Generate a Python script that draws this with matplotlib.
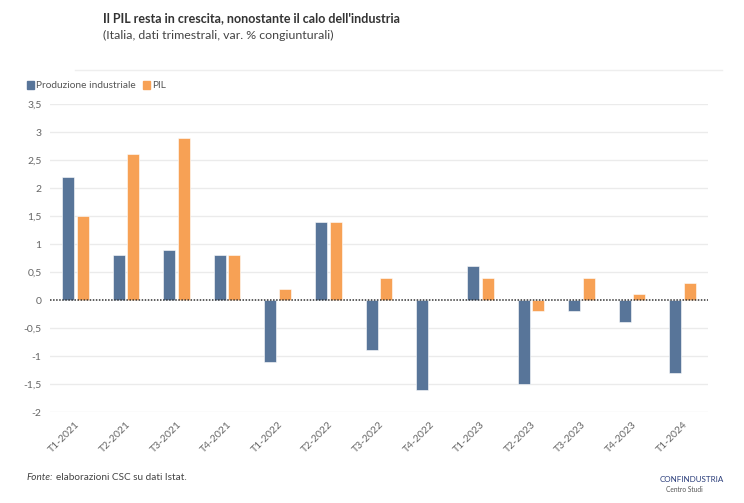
import numpy as np
import matplotlib.pyplot as plt
from matplotlib.transforms import ScaledTranslation

plt.rcParams['font.family'] = ['Lato', 'DejaVu Sans']

# data
trimestri = ['T1-2021', 'T2-2021', 'T3-2021', 'T4-2021', 'T1-2022', 'T2-2022', 'T3-2022',
             'T4-2022', 'T1-2023', 'T2-2023', 'T3-2023', 'T4-2023', 'T1-2024']
produzione = [2.2, 0.8, 0.9, 0.8, -1.1, 1.4, -0.9, -1.6, 0.6, -1.5, -0.2, -0.4, -1.3]
pil = [1.5, 2.6, 2.9, 0.8, 0.2, 1.4, 0.4, 0.0, 0.4, -0.2, 0.4, 0.1, 0.3]
y_ticks = [-2, -1.5, -1, -0.5, 0, 0.5, 1, 1.5, 2, 2.5, 3, 3.5]

blue = '#587599'
orange = '#f7a155'
grey_txt = '#666666'

fig = plt.figure(figsize=(7.44, 5.03), dpi=100)
ax = fig.add_axes([50 / 744, 1 - 412 / 503, 658 / 744, 308 / 503])

x = np.arange(len(trimestri))
w = 0.237
ax.bar(x - 0.145, produzione, w, color=blue, edgecolor='white', linewidth=0.4, zorder=3)
ax.bar(x + 0.145, pil, w, color=orange, edgecolor='white', linewidth=0.4, zorder=3)

ax.set_xlim(-0.5, len(trimestri) - 0.5)
ax.set_ylim(-2, 3.5)
ax.set_yticks(y_ticks)
ax.set_yticklabels([('%g' % v).replace('.', ',') for v in y_ticks], color=grey_txt, fontsize=7.5)
for v in y_ticks:
    if v != 0:
        ax.axhline(v, color='#ebebeb', linewidth=1, zorder=1)
ax.axhline(0, color='#333333', linewidth=1.1, linestyle=(0, (1, 1)), zorder=4)

ax.set_xticks(x)
ax.set_xticklabels(trimestri, rotation=45, ha='right', rotation_mode='anchor',
                   color=grey_txt, fontsize=7.5)
off = ScaledTranslation(6 / 100, 0, fig.dpi_scale_trans)
for lab in ax.get_xticklabels():
    lab.set_transform(lab.get_transform() + off)
ax.tick_params(axis='both', length=0)
ax.tick_params(axis='x', pad=6)
ax.tick_params(axis='y', pad=6)
for s in ax.spines.values():
    s.set_visible(False)

# titles
fig.text(103 / 744, 1 - 18 / 503, "Il PIL resta in crescita, nonostante il calo dell'industria",
         fontsize=9, fontweight='bold', color='#333333', va='center')
fig.text(103 / 744, 1 - 35 / 503, "(Italia, dati trimestrali, var. % congiunturali)",
         fontsize=8.9, color='#444444', va='center')
fig.add_artist(plt.Line2D([75 / 744, 722 / 744], [1 - 70 / 503, 1 - 70 / 503],
                          color='#eeeeee', linewidth=1))

# legend
for xs, lab, col in [(27, 'Produzione industriale', blue), (143, 'PIL', orange)]:
    fig.patches.append(plt.Rectangle((xs / 744, 1 - 89 / 503), 7 / 744, 8 / 503,
                                     transform=fig.transFigure, color=col))
    fig.text((xs + 9) / 744, 1 - 85 / 503, lab, fontsize=7.3, color='#555555', va='center')

# footer
t = fig.text(27 / 744, 1 - 477 / 503, 'Fonte:', fontsize=7.2, style='italic', color='#444444', va='center')
fig.canvas.draw()
x_end = t.get_window_extent().x1
fig.text((x_end + 2) / 744, 1 - 477 / 503, 'elaborazioni CSC su dati Istat.', fontsize=7.2,
         color='#444444', va='center')
fig.text(660 / 744, 1 - 479 / 503, 'CONFINDUSTRIA', fontsize=5.8, color='#2a3d7a', va='center')
fig.text(666 / 744, 1 - 490 / 503, 'Centro Studi', fontsize=4.8, color='#555555', va='center')

fig.savefig('out.png', dpi=100)
